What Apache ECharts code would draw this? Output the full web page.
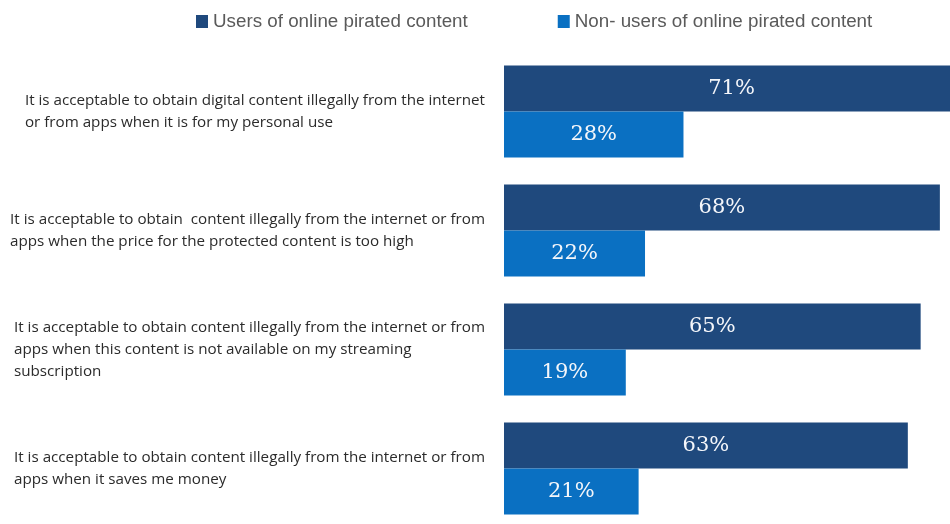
<!DOCTYPE html>
<html>
<head>
<meta charset="utf-8">
<script src="https://cdn.jsdelivr.net/npm/echarts@6/dist/echarts.min.js"></script>
<style>
  html, body { margin: 0; padding: 0; background: #ffffff; }
  #chart { width: 950px; height: 524px; }
</style>
</head>
<body>
<div id="chart"></div>
<script>
// Survey statements (one per row, top to bottom)
const statements = [
  'It is acceptable to obtain digital content illegally from the internet\nor from apps when it is for my personal use',
  'It is acceptable to obtain  content illegally from the internet or from\napps when the price for the protected content is too high',
  'It is acceptable to obtain content illegally from the internet or from\napps when this content is not available on my streaming\nsubscription',
  'It is acceptable to obtain content illegally from the internet or from\napps when it saves me money'
];

const seriesNames = ['Users of online pirated content', 'Non- users of online pirated content'];

// Share agreeing with each statement (%)
const usersValues = [71, 68, 65, 63];
const nonUsersValues = [28, 22, 19, 21];

const chart = echarts.init(document.getElementById('chart'), null, { renderer: 'canvas' });

const barLabel = {
  show: true,
  position: 'inside',
  formatter: '{c}%',
  color: '#f4f6fa',
  fontFamily: 'DejaVu Serif',
  fontSize: 21
};

chart.setOption({
  animation: false,
  backgroundColor: '#ffffff',
  legend: {
    data: seriesNames,
    left: 191,
    top: 7,
    icon: 'rect',
    itemWidth: 12,
    itemHeight: 13,
    itemGap: 90,
    textStyle: {
      color: '#5a5a5a',
      fontFamily: 'Liberation Sans',
      fontSize: 18.8
    }
  },
  // the value scale runs past the right edge of the page, so the longest bar is cut off
  grid: {
    left: 504,
    width: 641,
    top: 52,
    height: 476,
    containLabel: false,
    outerBoundsMode: 'none'
  },
  xAxis: {
    type: 'value',
    min: 0,
    max: 100,
    show: false
  },
  yAxis: {
    type: 'category',
    inverse: true,
    data: statements,
    axisLine: { show: false },
    axisTick: { show: false },
    axisLabel: {
      margin: 19,
      align: 'right',
      formatter: function (v) { return '{t|' + v + '}'; },
      rich: {
        t: {
          align: 'left',
          color: '#2b2b2b',
          fontFamily: 'Open Sans',
          fontSize: 15.2,
          lineHeight: 22
        }
      }
    }
  },
  series: [
    {
      name: seriesNames[0],
      type: 'bar',
      data: usersValues,
      barWidth: 46,
      barGap: '0%',
      clip: false,
      itemStyle: { color: '#1f497d' },
      label: barLabel
    },
    {
      name: seriesNames[1],
      type: 'bar',
      data: nonUsersValues,
      barWidth: 46,
      barGap: '0%',
      clip: false,
      itemStyle: { color: '#0a70c2' },
      label: barLabel
    }
  ]
});
</script>
</body>
</html>
